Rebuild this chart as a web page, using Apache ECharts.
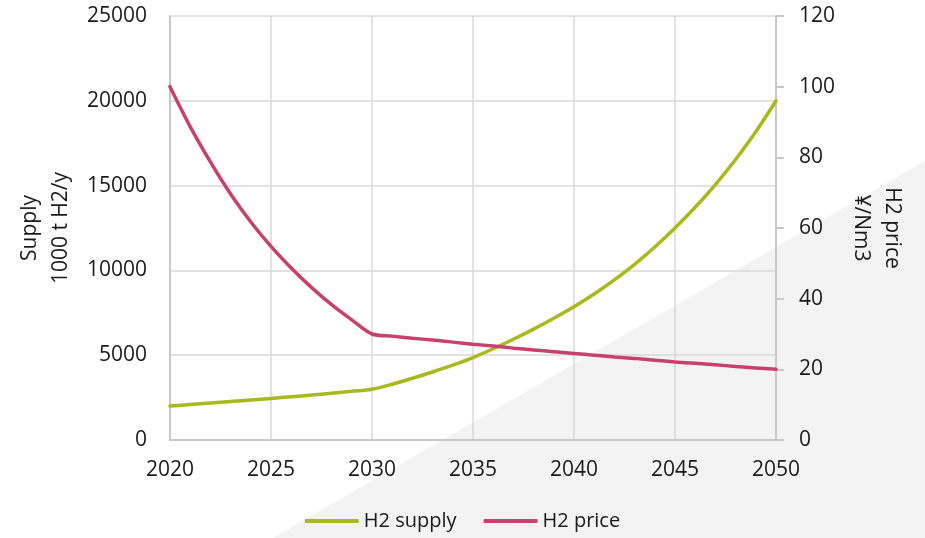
<!DOCTYPE html>
<html>
<head>
<meta charset="utf-8">
<title>H2 supply and price outlook</title>
<script src="https://cdn.jsdelivr.net/npm/echarts@6/dist/echarts.min.js"></script>
<style>
  html, body { margin: 0; padding: 0; background: #ffffff; }
  #chart { width: 925px; height: 538px; }
</style>
</head>
<body>
<div id="chart"></div>
<script>
// Years on the horizontal axis
const years = [2020, 2021, 2022, 2023, 2024, 2025, 2026, 2027, 2028, 2029, 2030,
               2031, 2032, 2033, 2034, 2035, 2036, 2037, 2038, 2039, 2040,
               2041, 2042, 2043, 2044, 2045, 2046, 2047, 2048, 2049, 2050];

// Hydrogen supply, 1000 t H2 per year (left axis)
const supply = [2000, 2090, 2180, 2270, 2360, 2450, 2550, 2650, 2760, 2870, 2990,
                3290, 3640, 4010, 4410, 4860, 5380, 5940, 6540, 7180, 7860,
                8610, 9440, 10360, 11380, 12500, 13720, 15060, 16540, 18170, 20000];

// Hydrogen price, yen per Nm3 (right axis)
const price = [100, 88.7, 78.7, 69.6, 61.7, 54.8, 48.7, 43.2, 38.3, 34.0, 30.0,
               29.4, 28.8, 28.3, 27.7, 27.1, 26.6, 26.0, 25.5, 25.0, 24.5,
               24.0, 23.5, 23.1, 22.6, 22.1, 21.7, 21.3, 20.8, 20.4, 20.0];

// Axis ranges and tick steps
const xTicks = { min: 2020, max: 2050, step: 5 };
const supplyTicks = { min: 0, max: 25000, step: 5000 };
const priceTicks = { min: 0, max: 120, step: 20 };

const seriesNames = ['H2 supply', 'H2 price'];
const axisNames = ['Supply\n1000 t H2/y', 'H2 price\n¥/Nm3'];

const FONT = '"Open Sans", "DejaVu Sans", sans-serif';
const TEXT = '#1a1a1a';
const GRID_LINE = '#d9d9d9';
const AXIS_LINE = '#c8c8c8';
const GREEN = '#a9b81d';
const PINK = '#c8416e';

const chart = echarts.init(document.getElementById('chart'), null, { renderer: 'canvas' });

const plain = v => String(v);

chart.setOption({
  animation: false,
  backgroundColor: '#ffffff',
  textStyle: { fontFamily: FONT },
  graphic: [
    {
      // soft grey wedge in the lower right corner
      type: 'polygon',
      z: -10,
      silent: true,
      shape: { points: [[273, 538], [925, 161], [925, 538]] },
      style: { fill: '#f3f3f3' }
    }
  ],
  grid: { left: 170, right: 149, top: 16, bottom: 98, containLabel: false },
  legend: {
    data: seriesNames,
    bottom: 2,
    left: 'center',
    icon: 'roundRect',
    itemWidth: 54,
    itemHeight: 4,
    itemGap: 27,
    textStyle: { fontFamily: FONT, fontSize: 20, color: TEXT }
  },
  xAxis: {
    type: 'value',
    min: xTicks.min,
    max: xTicks.max,
    interval: xTicks.step,
    axisLine: { show: true, lineStyle: { color: AXIS_LINE, width: 2 } },
    axisTick: { show: false },
    axisLabel: { formatter: plain, fontFamily: FONT, fontSize: 21, color: TEXT, margin: 20 },
    splitLine: { show: true, lineStyle: { color: GRID_LINE, width: 1.5 } }
  },
  yAxis: [
    {
      type: 'value',
      position: 'left',
      min: supplyTicks.min,
      max: supplyTicks.max,
      interval: supplyTicks.step,
      name: axisNames[0],
      nameLocation: 'middle',
      nameRotate: 90,
      nameGap: 92,
      nameTextStyle: { fontFamily: FONT, fontSize: 21, color: TEXT, lineHeight: 31 },
      axisLine: { show: true, lineStyle: { color: AXIS_LINE, width: 2 } },
      axisTick: { show: false },
      axisLabel: { formatter: plain, fontFamily: FONT, fontSize: 21, color: TEXT, margin: 23 },
      splitLine: { show: true, lineStyle: { color: GRID_LINE, width: 1.5 } }
    },
    {
      type: 'value',
      position: 'right',
      min: priceTicks.min,
      max: priceTicks.max,
      interval: priceTicks.step,
      name: axisNames[1],
      nameLocation: 'middle',
      nameRotate: -90,
      nameGap: 66,
      nameTextStyle: { fontFamily: FONT, fontSize: 21, color: TEXT, lineHeight: 31 },
      axisLine: { show: true, lineStyle: { color: AXIS_LINE, width: 2 } },
      axisTick: { show: true, inside: false, length: 8, lineStyle: { color: AXIS_LINE, width: 2 } },
      axisLabel: { formatter: plain, fontFamily: FONT, fontSize: 21, color: TEXT, margin: 23 },
      splitLine: { show: false }
    }
  ],
  series: [
    {
      name: seriesNames[0],
      type: 'line',
      yAxisIndex: 0,
      data: years.map((y, i) => [y, supply[i]]),
      smooth: 0.3,
      showSymbol: false,
      color: GREEN,
      lineStyle: { color: GREEN, width: 3.5, cap: 'round' },
      z: 3
    },
    {
      name: seriesNames[1],
      type: 'line',
      yAxisIndex: 1,
      data: years.map((y, i) => [y, price[i]]),
      smooth: 0.3,
      showSymbol: false,
      color: PINK,
      lineStyle: { color: PINK, width: 3.5, cap: 'round' },
      z: 3
    }
  ]
});
</script>
</body>
</html>
